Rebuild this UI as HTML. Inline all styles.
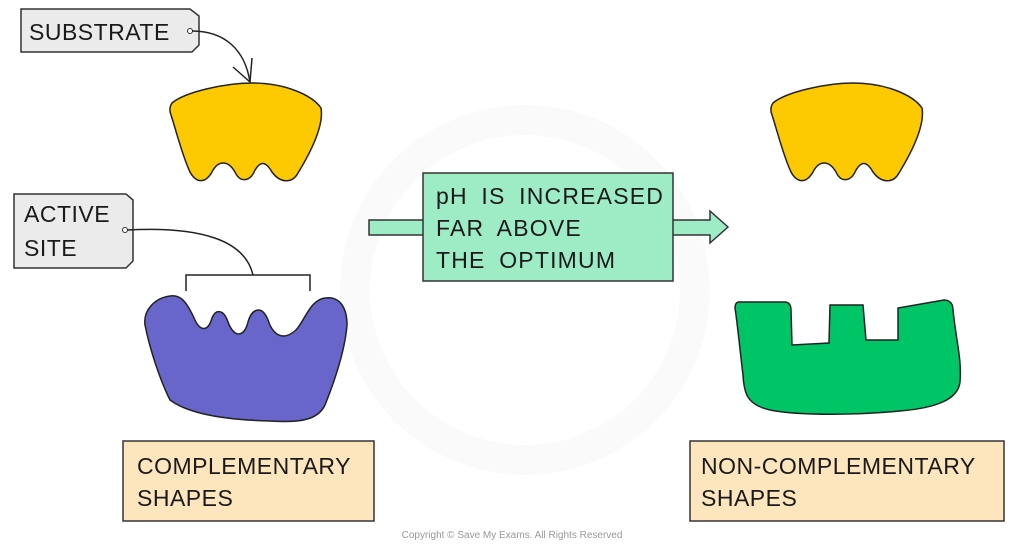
<!DOCTYPE html>
<html><head><meta charset="utf-8"><style>
html,body{margin:0;padding:0;background:#fff;}
svg{display:block;}
text{font-family:"Liberation Sans",sans-serif;fill:#1a1a1a;}
</style></head><body>
<svg width="1024" height="546" viewBox="0 0 1024 546" xmlns="http://www.w3.org/2000/svg">
<circle cx="525" cy="290" r="170" fill="none" stroke="#fafafa" stroke-width="30"/>
<!-- substrate tag -->
<path d="M21,9 L190,9 L199,16 L199,45 L192,52 L21,52 Z" fill="#ebebeb" stroke="#333" stroke-width="1.5"/>
<text x="29" y="40" font-size="23" letter-spacing="0.5">SUBSTRATE</text>
<circle cx="190" cy="31" r="2.5" fill="#fff" stroke="#333"/>
<path d="M192,31 C225,31 245,50 250,82" fill="none" stroke="#222" stroke-width="1.5"/>
<path d="M233,67 L250,82 L252,58" fill="none" stroke="#222" stroke-width="1.5"/>
<!-- substrate yellow -->
<g id="sub">
<path d="M172,103 C185,92 225,83 252,83 C285,83 312,95 321,108 C324,125 312,150 298,173 C292,184 280,183 272,172 C265,160 260,162 255,170 C250,182 240,183 235,172 C228,160 218,160 212,172 C205,184 196,183 190,172 C182,155 176,130 171,115 C169,110 170,106 172,103 Z" fill="#fdc900" stroke="#222" stroke-width="1.5"/>
</g>
<use href="#sub" transform="translate(601,0)"/>
<!-- active site tag -->
<path d="M14,194 L126,194 L133,200 L133,261 L126,268 L14,268 Z" fill="#ebebeb" stroke="#333" stroke-width="1.5"/>
<text x="24" y="222" font-size="23" letter-spacing="0.5">ACTIVE</text>
<text x="24" y="256" font-size="23" letter-spacing="0.5">SITE</text>
<circle cx="125" cy="230" r="2.5" fill="#fff" stroke="#333"/>
<path d="M127,230 C200,226 245,240 253,275" fill="none" stroke="#222" stroke-width="1.5"/>
<path d="M186,291 L186,275 L310,275 L310,291" fill="none" stroke="#222" stroke-width="1.5"/>
<!-- blue enzyme -->
<path d="M170,296 C182,294 188,305 194,318 C200,332 208,332 212,318 C216,308 224,310 228,322 C234,338 244,338 248,322 C252,308 262,305 268,320 C274,338 285,340 296,330 C305,320 310,300 325,298 C340,296 347,308 347,325 C345,350 335,380 325,405 C318,420 300,423 270,421 C230,420 190,415 170,400 C160,380 150,350 145,325 C143,310 155,298 170,296 Z" fill="#6865cb" stroke="#222" stroke-width="1.5"/>
<!-- green enzyme -->
<path d="M739,302 L786,302 C790,303 791,306 791,310 L792,345 L829,343 L830,305 L863,305 L866,340 L898,340 L898,308 L944,300 C950,300 953,304 953,310 C956,340 962,360 960,382 C958,400 935,408 900,411 C860,415 800,416 770,410 C748,405 744,395 743,375 C740,350 737,320 735,308 C735,305 736,302 739,302 Z" fill="#00c566" stroke="#222" stroke-width="1.5"/>
<!-- middle arrow & box -->
<path d="M369,220 L424,220 L424,235 L369,235 Z" fill="#9eecc6" stroke="#333" stroke-width="1.5"/>
<path d="M672,220 L710,220 L710,211 L728,227 L710,243 L710,235 L672,235 Z" fill="#9eecc6" stroke="#333" stroke-width="1.5"/>
<rect x="423" y="173" width="250" height="108" fill="#9eecc6" stroke="#333" stroke-width="1.5"/>
<text x="436" y="204" font-size="23" letter-spacing="1.2" word-spacing="6">pH IS INCREASED</text>
<text x="436" y="236" font-size="23" letter-spacing="1.2" word-spacing="6">FAR ABOVE</text>
<text x="436" y="268" font-size="23" letter-spacing="1.2" word-spacing="6">THE OPTIMUM</text>
<!-- bottom boxes -->
<rect x="123" y="441" width="251" height="80" fill="#fde5bd" stroke="#333" stroke-width="1.5"/>
<text x="137" y="474" font-size="23" letter-spacing="0.5">COMPLEMENTARY</text>
<text x="137" y="506" font-size="23" letter-spacing="0.5">SHAPES</text>
<rect x="690" y="441" width="314" height="80" fill="#fde5bd" stroke="#333" stroke-width="1.5"/>
<text x="701" y="474" font-size="23" letter-spacing="0.5">NON-COMPLEMENTARY</text>
<text x="701" y="506" font-size="23" letter-spacing="0.5">SHAPES</text>
<text x="512" y="538" font-size="10" text-anchor="middle" style="fill:#999">Copyright © Save My Exams. All Rights Reserved</text>
</svg>
</body></html>
